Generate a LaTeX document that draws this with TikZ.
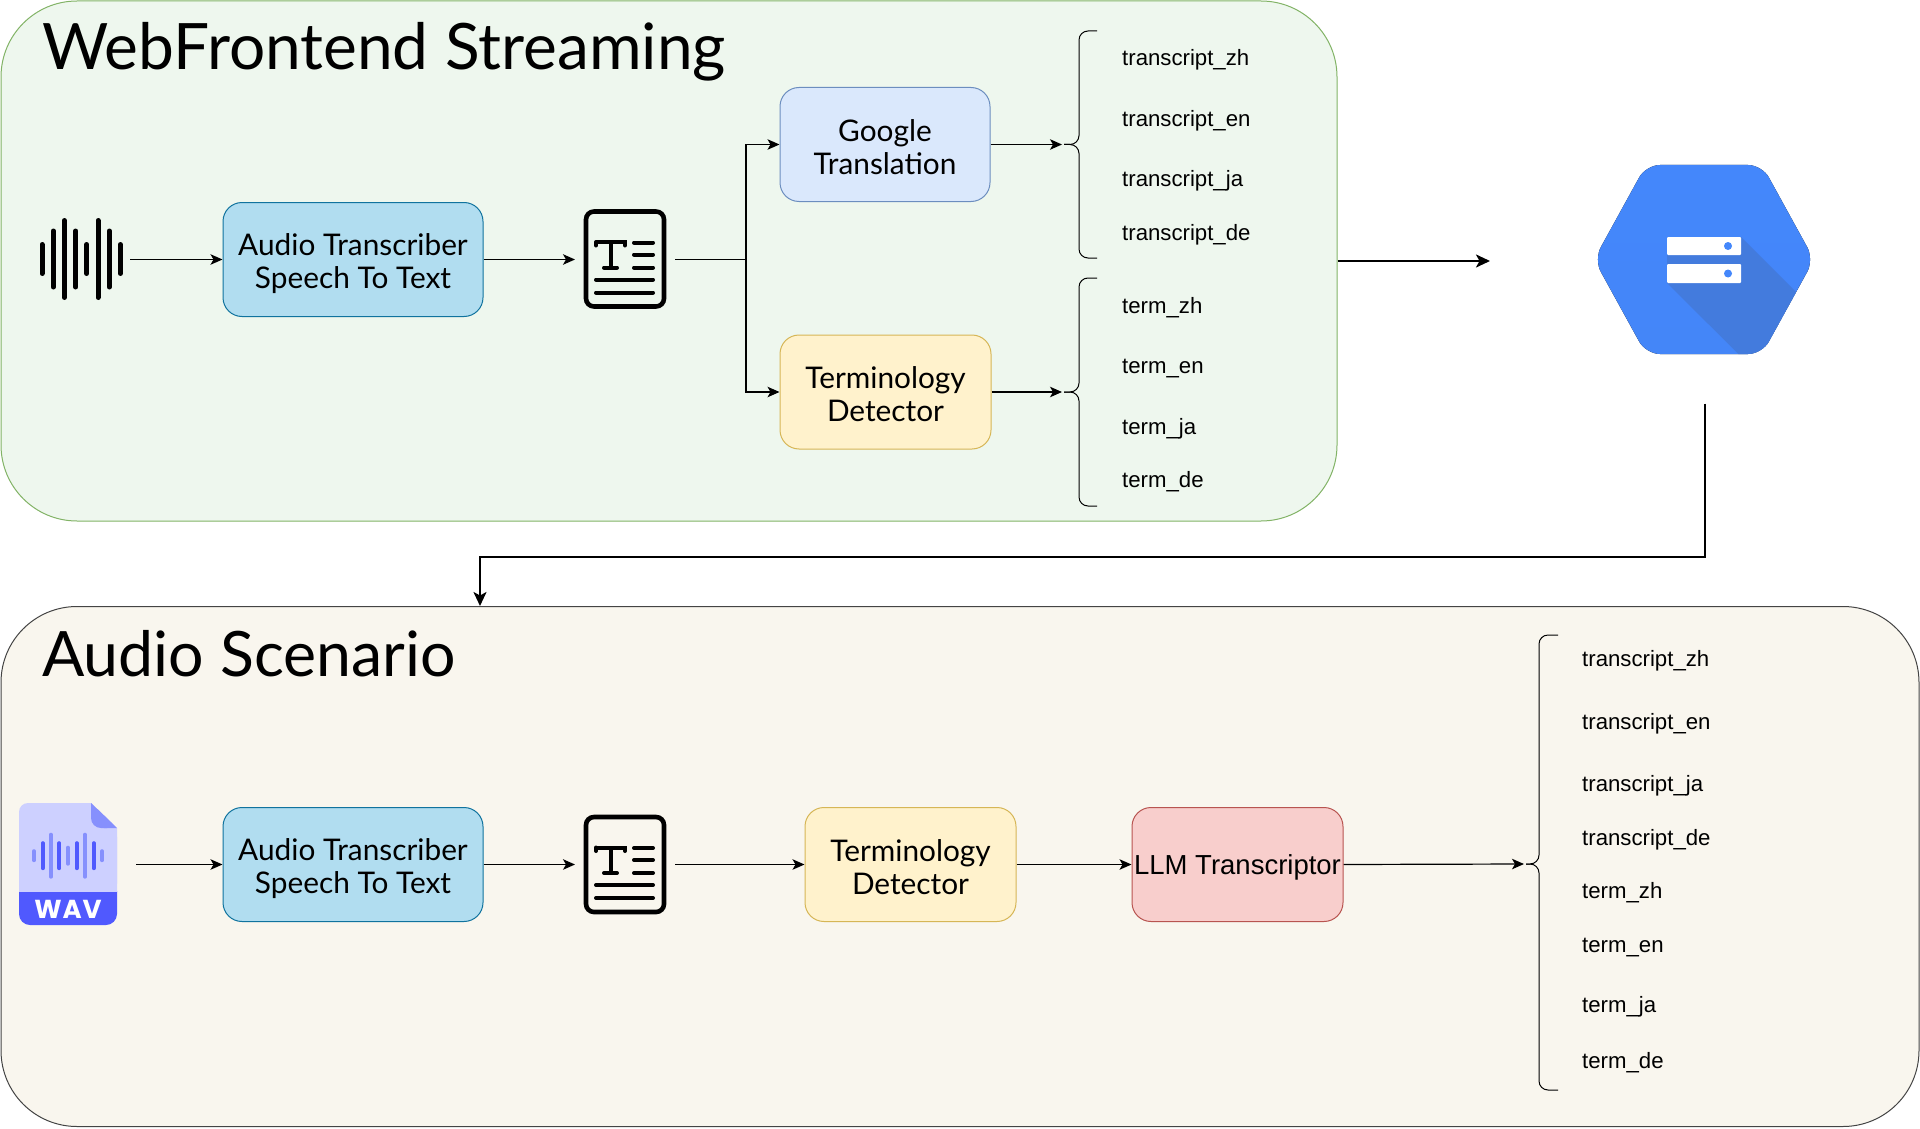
\documentclass[tikz,border=0pt]{standalone}
\usepackage{fontspec}
\usetikzlibrary{arrows.meta,positioning}
\setmainfont{Liberation Sans}
\newfontfamily\hand{Lato}
\newfontfamily\handbold{Poppins Bold}
\definecolor{webfill}{HTML}{EEF7EE}
\definecolor{webedge}{HTML}{82B366}
\definecolor{audiofill}{HTML}{F9F6EE}
\definecolor{audioedge}{HTML}{444444}
\definecolor{bluefill}{HTML}{B1DDF0}
\definecolor{blueedge}{HTML}{10739E}
\definecolor{gfill}{HTML}{DAE8FC}
\definecolor{gedge}{HTML}{6C8EBF}
\definecolor{yfill}{HTML}{FFF2CC}
\definecolor{yedge}{HTML}{D6B656}
\definecolor{rfill}{HTML}{F8CECC}
\definecolor{redge}{HTML}{B85450}
\definecolor{hexblue}{HTML}{4487FB}
\definecolor{hexshade}{HTML}{437BDD}
\definecolor{wavlight}{HTML}{CDD0FF}
\definecolor{wavmid}{HTML}{8690FD}
\definecolor{wavdark}{HTML}{5059FE}
\newcommand{\cardstrut}[1]{\rule{0pt}{#1pt}}
\tikzset{
 x=1pt,y=-1pt,
 panel/.style={draw,rounded corners=76pt,line width=1pt,inner sep=0pt,anchor=north west},
 card/.style={draw,rounded corners=19pt,line width=1pt,inner sep=0pt,align=center,font=\hand\fontsize{29.8}{33}\selectfont},
 ghost/.style={inner sep=0pt,outer sep=0pt},
 link/.style={line width=1.2pt,-{Stealth[length=12pt,width=10.5pt,inset=3pt]}},
 biglink/.style={line width=2.2pt,-{Stealth[length=14pt,width=13pt,inset=3.5pt]}},
 braceline/.style={line width=1pt,rounded corners=9pt},
 tag/.style={anchor=west,inner sep=0pt,font=\fontsize{22.2}{26}\selectfont},
 titletext/.style={anchor=west,inner sep=0pt},
 wavebar/.style={line width=5pt,line cap=round},
 docline/.style={line width=4pt,line cap=round},
}
\newcommand{\docicon}[2]{%
 \draw[line width=4.6pt,rounded corners=8pt] (#1-39,#2-48) rectangle (#1+39,#2+47);
 \draw[line width=4pt,line cap=round] (#1-29,#2-17.5) -- (#1-29,#2-14) (#1-29,#2-17.5) -- (#1+0,#2-17.5) -- (#1+0,#2-14);
 \draw[line width=4pt] (#1-14.5,#2-17.5) -- (#1-14.5,#2+8);
 \draw[docline] (#1-21,#2+8) -- (#1-8,#2+8);
 \draw[docline] (#1+9,#2-17) -- (#1+28,#2-17) (#1+9,#2-5) -- (#1+28,#2-5) (#1+9,#2+8) -- (#1+28,#2+8);
 \draw[docline] (#1-29,#2+20) -- (#1+28,#2+20) (#1-29,#2+33) -- (#1+28,#2+33);
}
\newcommand{\curly}[6]{% tip spine end top mid bottom
 \draw[braceline] (#3,#4) -- (#2,#4) -- (#2,#5) -- (#1,#5);
 \draw[braceline] (#1,#5) -- (#2,#5) -- (#2,#6) -- (#3,#6);
}
\begin{document}
\begin{tikzpicture}
\useasboundingbox (0,0) rectangle (1920,1129);
% panels
\node[panel,fill=webfill,draw=webedge,minimum width=1336pt,minimum height=520pt] (web) at (0.5,0.5) {};
\node[panel,fill=audiofill,draw=audioedge,minimum width=1918pt,minimum height=520pt] (audio) at (0.5,606) {};
\node[titletext,font=\hand\fontsize{64}{70}\selectfont] (webtitle) at (42,52) {WebFrontend Streaming};
\node[titletext,font=\hand\fontsize{62.6}{70}\selectfont] (audiotitle) at (42,654) {Audio Scenario};
% waveform icon
\foreach \bx/\bh in {42/14.5,53.2/28,64.4/38.5,75.6/28,86.8/14.5,98/38.5,109.2/28,120.4/14.5}
  \draw[wavebar] (\bx,259-\bh) -- (\bx,259+\bh);
\node[ghost,minimum width=90pt,minimum height=90pt] (wave) at (85,259.5) {};
% cards row 1
\node[card,fill=bluefill,draw=blueedge,minimum width=260pt,minimum height=114pt] (asr1) at (353,259.5) {\cardstrut{31}Audio Transcriber\\Speech To Text};
\docicon{625}{259.5}
\node[ghost,minimum width=100pt,minimum height=100pt] (doc1) at (625,259.5) {};
\node[card,fill=gfill,draw=gedge,minimum width=210pt,minimum height=114pt] (google) at (885,144.5) {\cardstrut{27}Google\\Translation};
\node[card,fill=yfill,draw=yedge,minimum width=211pt,minimum height=114pt] (term1) at (885.5,392) {\cardstrut{26}Terminology\\Detector};
% braces
\curly{1064}{1079}{1097}{31}{144.5}{258}
\curly{1064}{1079}{1097}{278}{392}{506}
\coordinate (braceA) at (1062,144.5);
\coordinate (braceB) at (1062,392);
\foreach \nm/\ty/\tx in {a/60/transcript\_zh,b/121/transcript\_en,c/181/transcript\_ja,d/235/transcript\_de,e/308/term\_zh,f/369/term\_en,g/429/term\_ja,h/482/term\_de}
  \node[tag] (up\nm) at (1122,\ty) {\tx};
% storage icon
\begin{scope}
\path[clip,rounded corners=14pt] (1646,165) -- (1762,165) -- (1814,259.5) -- (1762,354) -- (1646,354) -- (1594,259.5) -- cycle;
\fill[top color=hexblue,bottom color=hexblue!90!hexshade,shading angle=0] (1590,160) rectangle (1820,360);
\fill[hexshade] (1741,237) -- (1841,337) -- (1841,460) -- (1845,460) -- (1667,283) -- (1667,255) -- cycle;
\end{scope}
\fill[white,rounded corners=1pt] (1667,237) rectangle (1741,255);
\fill[white,rounded corners=1pt] (1667,264) rectangle (1741,283);
\fill[hexblue] (1728,246) circle[radius=4pt] (1728,273.5) circle[radius=4pt];
\node[ghost,minimum width=430pt,minimum height=286pt] (gcs) at (1705,260.5) {};
% row 1 links
\draw[link] (wave.east) -- (asr1.west);
\draw[link] (asr1.east) -- (doc1.west);
\coordinate (fork) at (746,259.5);
\draw[link] (doc1.east) -- (fork) |- (google.west);
\draw[link] (fork) |- (term1.west);
\draw[link] (google.east) -- (braceA);
\draw[link] (term1.east) -- (braceB);
\draw[biglink] (web.east) -- (web.east -| gcs.west);
\coordinate (audioin) at (480,606);
\coordinate (bend) at (1705,557);
\draw[biglink] (gcs.south) -- (bend) -| (audioin);
% wav icon
\fill[wavlight,rounded corners=9pt] (91,803) -- (19,803) -- (19,892.5) -- (117,892.5) -- (117,828) -- cycle;
\fill[wavlight] (91,803) -- (117,828) -- (117,892.5) -- (60,892.5) -- (60,803) -- cycle;
\fill[wavlight] (19,815) rectangle (60,892.5);
\fill[wavdark,rounded corners=11pt] (19,880) -- (117,880) -- (117,925) -- (19,925) -- cycle;
\fill[wavlight] (19,875) rectangle (117,892);
\fill[wavmid,rounded corners=10pt] (91,803) -- (91,828) -- (117,828) -- cycle;
\fill[wavmid] (91,803) -- (117,828) -- (104,828) -- (91,815) -- cycle;
\foreach \bx/\bh/\bc in {34/4.5/wavmid,42.7/12.5/wavdark,51/21/wavmid,59.3/12.5/wavdark,68/8/wavmid,76.7/12.5/wavdark,85/21/wavmid,93.7/12.5/wavdark,102/4.5/wavmid}
  \draw[\bc,line width=4pt,line cap=round] (\bx,855.7-\bh) -- (\bx,855.7+\bh);
\node[ghost,text=white,font=\handbold\fontsize{26}{26}\selectfont] (wavtext) at (68,909) {W\kern1ptA\kern1ptV};
\node[ghost,minimum width=116pt,minimum height=124pt] (wav) at (78,864.5) {};
% cards row 2
\node[card,fill=bluefill,draw=blueedge,minimum width=260pt,minimum height=114pt] (asr2) at (353,864.5) {\cardstrut{31}Audio Transcriber\\Speech To Text};
\docicon{625}{865}
\node[ghost,minimum width=100pt,minimum height=100pt] (doc2) at (625,864.5) {};
\node[card,fill=yfill,draw=yedge,minimum width=211pt,minimum height=114pt] (term2) at (910.5,864.5) {\cardstrut{28}Terminology\\Detector};
\node[card,fill=rfill,draw=redge,minimum width=211pt,minimum height=114pt,font=\fontsize{27.5}{33}\selectfont] (llm) at (1237.5,864.5) {\cardstrut{25}LLM Transcriptor};
\curly{1526}{1539}{1558}{635}{864}{1090}
\coordinate (braceC) at (1524,864);
\foreach \nm/\ty/\tx in {a/661/transcript\_zh,b/724/transcript\_en,c/786/transcript\_ja,d/840/transcript\_de,e/893/term\_zh,f/948/term\_en,g/1007/term\_ja,h/1063/term\_de}
  \node[tag] (low\nm) at (1582,\ty) {\tx};
\draw[link] (wav.east) -- (asr2.west);
\draw[link] (asr2.east) -- (doc2.west);
\draw[link] (doc2.east) -- (term2.west);
\draw[link] (term2.east) -- (llm.west);
\draw[link] (llm.east) -- (braceC);
\end{tikzpicture}
\end{document}
